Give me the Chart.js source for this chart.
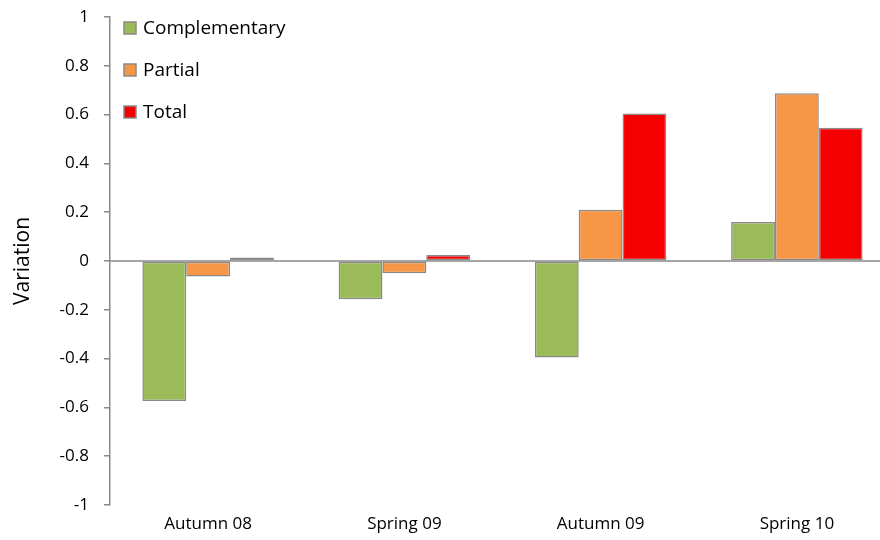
<!DOCTYPE html>
<html>
<head>
<meta charset="utf-8">
<script src="https://cdn.jsdelivr.net/npm/chart.js@4/dist/chart.umd.min.js"></script>
<style>
  html, body { margin: 0; padding: 0; background: #fff; overflow: hidden; }
  #wrap { width: 895px; height: 540px; position: relative; }
</style>
</head>
<body>
<div id="wrap"><canvas id="chart"></canvas></div>
<script>
const seasons = ["Autumn 08", "Spring 09", "Autumn 09", "Spring 10"]
const complementary = [-0.574, -0.157, -0.396, 0.16]
const partial = [-0.064, -0.05, 0.21, 0.687]
const total = [0.014, 0.025, 0.604, 0.546]

const COLORS = {
  green: "#9bbb59",
  orange: "#f79646",
  red: "#f40000",
  edge: "#898989",
  text: "#000000",
}

const FONT = "'Open Sans', Lato, sans-serif"

// horizontal axis line at y = 0, running to the right edge
const zeroLine = {
  id: "zeroLine",
  beforeDatasetsDraw(chart) {
    const ctx = chart.ctx
    const y = chart.scales.y.getPixelForValue(0)
    ctx.save()
    ctx.strokeStyle = COLORS.edge
    ctx.lineWidth = 1.5
    ctx.beginPath()
    ctx.moveTo(chart.chartArea.left, y)
    ctx.lineTo(chart.width, y)
    ctx.stroke()
    ctx.restore()
  },
}

// vertical legend in the top-left corner of the plot
const cornerLegend = {
  id: "cornerLegend",
  afterDraw(chart) {
    const ctx = chart.ctx
    const x0 = chart.chartArea.left + 14
    let y = 28
    ctx.save()
    ctx.font = "19px " + FONT
    ctx.textBaseline = "middle"
    chart.data.datasets.forEach((ds) => {
      ctx.fillStyle = ds.backgroundColor
      ctx.fillRect(x0, y - 6, 12, 12)
      ctx.strokeStyle = COLORS.edge
      ctx.lineWidth = 1.5
      ctx.strokeRect(x0, y - 6, 12, 12)
      ctx.fillStyle = COLORS.text
      ctx.fillText(ds.label, x0 + 19, y + 1)
      y += 42
    })
    ctx.restore()
  },
}

const barStyle = {
  borderColor: COLORS.edge,
  borderWidth: 1.5,
  borderSkipped: false,
  categoryPercentage: 0.67,
  barPercentage: 1,
}

new Chart(document.getElementById("chart"), {
  type: "bar",
  data: {
    labels: seasons,
    datasets: [
      { label: "Complementary", data: complementary, backgroundColor: COLORS.green, ...barStyle },
      { label: "Partial", data: partial, backgroundColor: COLORS.orange, ...barStyle },
      { label: "Total", data: total, backgroundColor: COLORS.red, ...barStyle },
    ],
  },
  options: {
    responsive: true,
    maintainAspectRatio: false,
    animation: false,
    layout: { padding: { top: 17, right: 0, bottom: 0, left: 0 } },
    plugins: {
      legend: { display: false },
      tooltip: { enabled: false },
    },
    scales: {
      x: {
        grid: { display: false },
        border: { display: false },
        ticks: { color: COLORS.text, font: { family: FONT, size: 17 }, padding: 1 },
        afterFit: (scale) => { scale.height = 35 },
      },
      y: {
        min: -1,
        max: 1,
        ticks: {
          stepSize: 0.2,
          color: COLORS.text,
          font: { family: FONT, size: 17 },
          padding: 15,
          callback: (v) => String(Math.round(v * 10) / 10),
        },
        grid: {
          drawOnChartArea: false,
          tickColor: COLORS.edge,
          tickLength: 6,
          lineWidth: 1.5,
        },
        border: { display: true, color: COLORS.edge, width: 1.5 },
        title: {
          display: true,
          text: "Variation",
          color: COLORS.text,
          font: { family: FONT, size: 21 },
          padding: { top: 10, bottom: 4 },
        },
        afterFit: (scale) => {
          scale.width = 110
          // tick padding would otherwise push the plot top down
          scale.paddingTop = 0
          scale.paddingBottom = 0
        },
      },
    },
  },
  plugins: [zeroLine, cornerLegend],
})
</script>
</body>
</html>
